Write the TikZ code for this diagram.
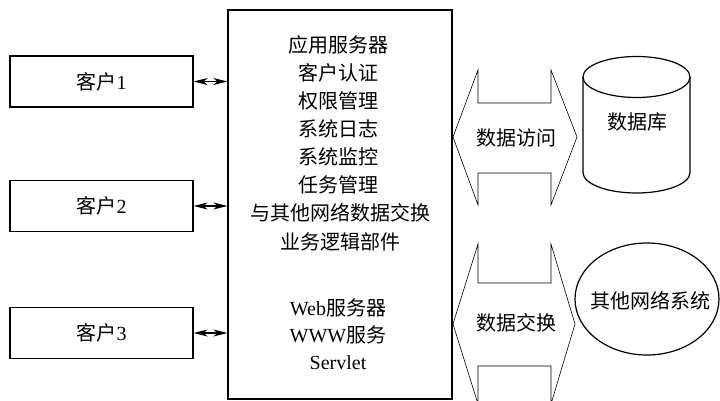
\documentclass[tikz,border=0pt]{standalone}
\usepackage{fontspec}
\setmainfont{Liberation Serif}
\newfontfamily\cjk{Noto Sans CJK SC}
\usetikzlibrary{arrows.meta,shapes.geometric}

\begin{document}
\begin{tikzpicture}[x=1pt,y=-1pt,
  every node/.style={font=\fontsize{20}{24}\selectfont},
  box/.style={draw, line width=1.2pt, inner sep=0pt},
  client/.style={box, minimum width=183pt, minimum height=51pt},
  link/.style={line width=1.3pt, {Stealth[length=14pt,width=7pt,inset=4pt]}-{Stealth[length=14pt,width=7pt,inset=4pt]}},
  flow/.style={draw, line width=0.6pt, line join=miter},
  txt/.style={inner sep=0pt, anchor=center}
]
\useasboundingbox (0,0) rectangle (720,401);

% clients
\node[client] (c1) at (101.5,81.5) {{\cjk 客户}1};
\node[client] (c2) at (101.5,206) {{\cjk 客户}2};
\node[client] (c3) at (101.5,333) {{\cjk 客户}3};

% application server box
\node[box, minimum width=224pt, minimum height=389pt] (srv) at (340,204.5) {};

\foreach \c in {c1,c2,c3}
  \draw[link] (\c.east) -- (\c.east -| srv.west);

% server contents
\node[txt] (s1)  at (338,45)  {\cjk 应用服务器};
\node[txt] (s2)  at (338,73)  {\cjk 客户认证};
\node[txt] (s3)  at (338,101) {\cjk 权限管理};
\node[txt] (s4)  at (338,129) {\cjk 系统日志};
\node[txt] (s5)  at (338,157) {\cjk 系统监控};
\node[txt] (s6)  at (338,185) {\cjk 任务管理};
\node[txt] (s7)  at (340,213) {\cjk 与其他网络数据交换};
\node[txt] (s8)  at (340,242) {\cjk 业务逻辑部件};
\node[txt] (s9)  at (338,308) {Web{\cjk 服务器}};
\node[txt] (s10) at (338,335) {WWW{\cjk 服务}};
\node[txt] (s11) at (338,363) {Servlet};

% data access flow
\draw[flow] (478,70) -- (478,103) -- (551,103) -- (551,70) -- (577,137)
  -- (551,205) -- (551,173) -- (478,173) -- (478,205) -- (453,137) -- cycle;
\node[txt] (acc) at (516,138) {\cjk 数据访问};

% data exchange flow
\draw[flow] (478,244) -- (478,283) -- (551,283) -- (551,244) -- (575,324)
  -- (551,404) -- (551,366) -- (478,366) -- (478,404) -- (453,324) -- cycle;
\node[txt] (xch) at (516,323) {\cjk 数据交换};

% database cylinder
\draw[line width=1.2pt] (583,77) -- (583,172.5)
  arc[start angle=180, end angle=0, x radius=53.5, y radius=20.5] -- (690,77);
\draw[line width=1.2pt] (636.5,77) ellipse[x radius=53.5, y radius=20.5];
\node[txt] (db) at (637,122) {\cjk 数据库};

% other network systems
\node[box, ellipse, minimum width=144pt, minimum height=112pt] (net) at (647,299) {};
\node[txt] (nettxt) at (650,301) {\cjk 其他网络系统};
\end{tikzpicture}
\end{document}
